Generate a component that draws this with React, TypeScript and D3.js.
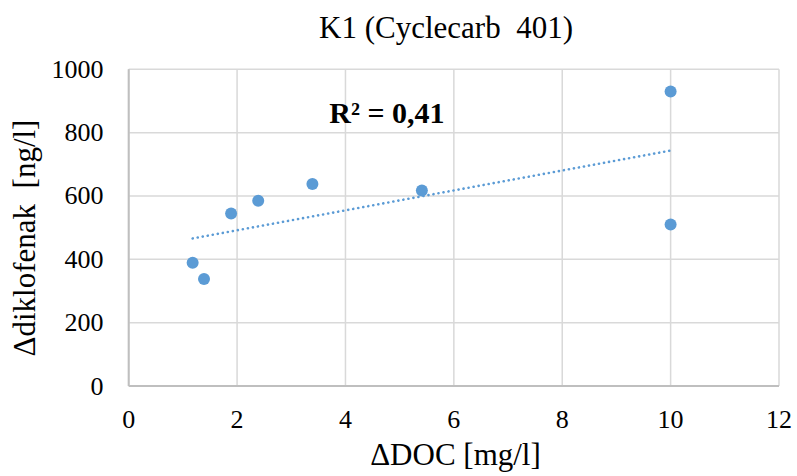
import React from "react";
import * as d3 from "d3";

const docValues = [1.18, 1.39, 1.89, 2.39, 3.39, 5.41, 10.0, 10.0];
const diclofenacValues = [389, 338, 545, 585, 638, 617, 930, 510];
const xTicks = [0, 2, 4, 6, 8, 10, 12];
const yTicks = [0, 200, 400, 600, 800, 1000];
const titleText = "K1 (Cyclecarb  401)";
const xLabel = "ΔDOC [mg/l]";
const yLabel = "Δdiklofenak  [ng/l]";
const r2Label = "R² = 0,41";

const W = 797;
const H = 476;
const margin = { left: 128.7, right: W - 779, top: 69.3, bottom: H - 386 };
const FONT = '"Liberation Serif"';

export default function App() {
  const x = d3.scaleLinear().domain([0, 12]).range([margin.left, W - margin.right]);
  const y = d3.scaleLinear().domain([0, 1000]).range([H - margin.bottom, margin.top]);

  const pts = docValues.map((d, i) => ({ x: d, y: diclofenacValues[i] }));
  const mx = d3.mean(pts, (p) => p.x) as number;
  const my = d3.mean(pts, (p) => p.y) as number;
  const sxy = d3.sum(pts, (p) => (p.x - mx) * (p.y - my));
  const sxx = d3.sum(pts, (p) => (p.x - mx) ** 2);
  const slope = sxy / sxx;
  const intercept = my - slope * mx;
  const [x0, x1] = d3.extent(docValues) as [number, number];
  const trend = d3.line<number>().x((v) => x(v)).y((v) => y(intercept + slope * v));

  const ts = { fontFamily: FONT };

  return (
    <svg width={W} height={H} style={{ position: "absolute", left: 0, top: 0, background: "#fff" }}>
      <rect width={W} height={H} fill="#fff" />
      {yTicks.map((t) => (
        <line key={"gy" + t} x1={x(0)} x2={x(12)} y1={y(t)} y2={y(t)} stroke="#d9d9d9" strokeWidth={1.5} />
      ))}
      {xTicks.map((t) => (
        <line key={"gx" + t} x1={x(t)} x2={x(t)} y1={y(0)} y2={y(1000)} stroke="#d9d9d9" strokeWidth={1.5} />
      ))}
      <line x1={x(0)} x2={x(12)} y1={y(0)} y2={y(0)} stroke="#bfbfbf" strokeWidth={2} />
      <line x1={x(0)} x2={x(0)} y1={y(0)} y2={y(1000)} stroke="#bfbfbf" strokeWidth={2} />
      {yTicks.map((t) => (
        <text key={"ty" + t} x={103.5} y={y(t) + 8.5} textAnchor="end" fontSize={26} fill="#000" style={ts}>
          {t}
        </text>
      ))}
      {xTicks.map((t) => (
        <text key={"tx" + t} x={x(t)} y={428} textAnchor="middle" fontSize={26} fill="#000" style={ts}>
          {t}
        </text>
      ))}
      <path
        d={trend([x0, x1]) || ""}
        fill="none"
        stroke="#5b9bd5"
        strokeWidth={2.6}
        strokeDasharray="0.1 5"
        strokeLinecap="round"
      />
      {pts.map((p, i) => (
        <circle key={i} cx={x(p.x)} cy={y(p.y)} r={6} fill="#5b9bd5" />
      ))}
      <text x={446} y={37.7} textAnchor="middle" fontSize={31} fill="#000" style={{ ...ts, whiteSpace: "pre" }}>
        {titleText}
      </text>
      <text x={455.5} y={465} textAnchor="middle" fontSize={31} fill="#000" style={ts}>
        {xLabel}
      </text>
      <text
        transform={`translate(35,238) rotate(-90)`}
        textAnchor="middle"
        fontSize={31}
        fill="#000"
        style={{ ...ts, whiteSpace: "pre" }}
      >
        {yLabel}
      </text>
      <text x={329.3} y={123.3} fontSize={30} fontWeight="bold" fill="#000" style={ts}>
        {r2Label}
      </text>
    </svg>
  );
}
